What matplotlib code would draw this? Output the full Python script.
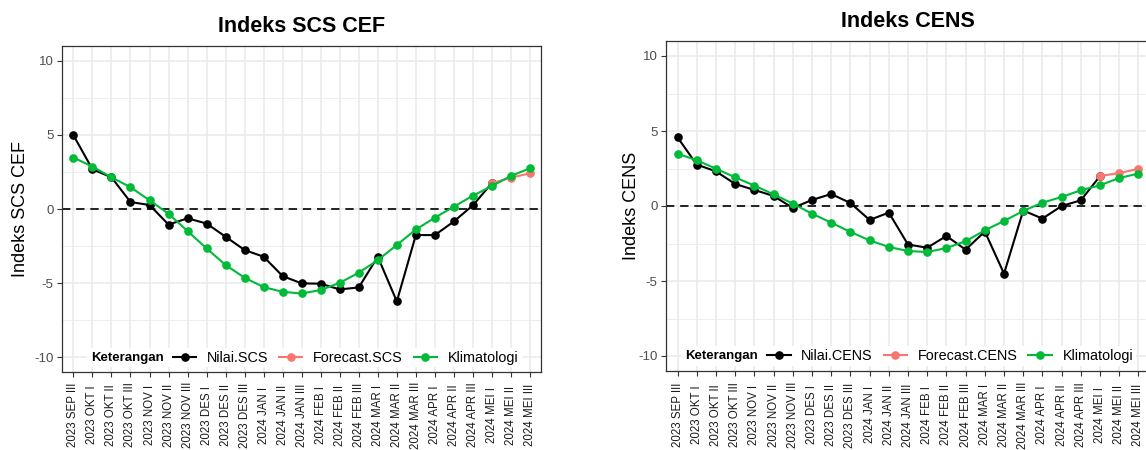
import numpy as np
import matplotlib
matplotlib.use("Agg")
import matplotlib.pyplot as plt
import matplotlib.transforms as mtransforms
from matplotlib.lines import Line2D
from matplotlib.patches import Rectangle

plt.rcParams['font.family'] = ['Liberation Sans', 'DejaVu Sans']
plt.rcParams['axes.unicode_minus'] = False

# dasarian labels (x axis)
labels = ["2023 SEP III", "2023 OKT I", "2023 OKT II", "2023 OKT III",
          "2023 NOV I", "2023 NOV II", "2023 NOV III",
          "2023 DES I", "2023 DES II", "2023 DES III",
          "2024 JAN I", "2024 JAN II", "2024 JAN III",
          "2024 FEB I", "2024 FEB II", "2024 FEB III",
          "2024 MAR I", "2024 MAR II", "2024 MAR III",
          "2024 APR I", "2024 APR II", "2024 APR III",
          "2024 MEI I", "2024 MEI II", "2024 MEI III"]

# SCS CEF
nilai_scs = [4.98, 2.68, 2.14, 0.47, 0.27, -1.05, -0.63, -0.98, -1.87, -2.77,
             -3.22, -4.53, -5.02, -5.04, -5.43, -5.29, -3.22, -6.24, -1.76, -1.76,
             -0.84, 0.25, 1.75]
forecast_scs = [1.75, 2.11, 2.41]
klim_scs = [3.47, 2.86, 2.14, 1.47, 0.59, -0.32, -1.49, -2.66, -3.78, -4.64,
            -5.27, -5.59, -5.70, -5.47, -4.98, -4.30, -3.45, -2.43, -1.38, -0.59,
            0.16, 0.90, 1.55, 2.23, 2.75]

# CENS
nilai_cens = [4.58, 2.76, 2.31, 1.47, 1.07, 0.67, -0.13, 0.40, 0.80, 0.20,
              -0.93, -0.44, -2.57, -2.78, -2.00, -2.91, -1.70, -4.51, -0.30, -0.84,
              0.00, 0.38, 2.00]
forecast_cens = [2.00, 2.20, 2.47]
klim_cens = [3.49, 3.05, 2.49, 1.91, 1.36, 0.78, 0.16, -0.51, -1.11, -1.73,
             -2.29, -2.73, -3.00, -3.07, -2.80, -2.35, -1.62, -1.00, -0.33, 0.22,
             0.60, 1.05, 1.38, 1.87, 2.16]

BLACK = 'black'
RED = '#F8766D'
GREEN = '#00BA38'
MS = 5.2
LW = 1.5

fig = plt.figure(figsize=(11.46, 4.5), dpi=100)


def panel(rect, title, ylabel, nilai, forecast, klim, names, ylab_x, box, leg_x, ket_x, leg_y, xlab_y):
    ax = fig.add_axes(rect)
    x = np.arange(len(labels))
    n = len(nilai)
    ax.plot(x[:n], nilai, color=BLACK, lw=LW, marker='o', ms=MS, zorder=3)
    ax.plot(x[-len(forecast):], forecast, color=RED, lw=LW, marker='o', ms=MS, zorder=4)
    ax.plot(x, klim, color=GREEN, lw=LW, marker='o', ms=MS, zorder=5)
    ax.axhline(0, color='black', lw=1.2, ls=(0, (5, 3.5)), zorder=2)

    ax.set_xlim(-0.6, len(labels) - 0.4)
    ax.set_ylim(-11, 11)
    ax.set_yticks([-10, -5, 0, 5, 10])
    ax.set_yticks([-7.5, -2.5, 2.5, 7.5], minor=True)
    ax.set_xticks(x)
    ax.set_xticklabels([])
    # x labels centred in the label band (ggplot style, angle = 90)
    trans = mtransforms.blended_transform_factory(ax.transData, ax.transAxes)
    for xi, lab in zip(x, labels):
        ax.text(xi, xlab_y, lab, transform=trans, rotation=90, ha='center', va='center',
                fontsize=8.3, color='#1a1a1a', clip_on=False)
    ax.tick_params(axis='x', length=3.5, width=0.8, color='#333333', pad=2)
    ax.tick_params(axis='y', which='major', length=3.5, width=0.8, color='#333333',
                   labelsize=9.5, labelcolor='#4D4D4D', pad=2.5)
    ax.tick_params(axis='y', which='minor', length=0)
    ax.grid(which='major', color='#EBEBEB', lw=1.2, zorder=0)
    ax.grid(which='minor', axis='y', color='#EBEBEB', lw=0.6, zorder=0)
    ax.set_axisbelow(True)
    for s in ax.spines.values():
        s.set_color('#333333')
        s.set_linewidth(0.9)

    ax.set_title(title, fontsize=15.5, fontweight='bold', pad=10)
    ax.set_ylabel(ylabel, fontsize=13)
    ax.yaxis.set_label_coords(ylab_x, 0.5)

    # legend band at the bottom, inside the panel
    ax.add_patch(Rectangle((box[0], box[1]), box[2] - box[0], box[3] - box[1],
                           transform=ax.transAxes, facecolor='white', edgecolor='none', zorder=6))
    ax.text(ket_x, leg_y, 'Keterangan', transform=ax.transAxes, fontsize=9.5,
            fontweight='bold', va='center', ha='left', zorder=7)
    handles = [Line2D([], [], color=c, lw=LW, marker='o', ms=MS) for c in (BLACK, RED, GREEN)]
    leg = ax.legend(handles, names, ncol=3, loc='center left', bbox_to_anchor=(leg_x, leg_y),
                    frameon=False, fontsize=10.4, handlelength=1.6, handletextpad=0.75,
                    columnspacing=0.75, borderpad=0, borderaxespad=0)
    leg.set_zorder(8)
    return ax


panel([62 / 1146, 78 / 450, 479.4 / 1146, 326 / 450], 'Indeks SCS CEF', 'Indeks SCS CEF',
      nilai_scs, forecast_scs, klim_scs, ['Nilai.SCS', 'Forecast.SCS', 'Klimatologi'],
      -0.069, (0.052, 0.015, 0.962, 0.074), 0.2315, 0.0605, 0.044, -0.132)

panel([666 / 1146, 79 / 450, 484 / 1146, 330 / 450], 'Indeks CENS', 'Indeks CENS',
      nilai_cens, forecast_cens, klim_cens, ['Nilai.CENS', 'Forecast.CENS', 'Klimatologi'],
      -0.054, (0.031, 0.015, 0.971, 0.076), 0.2095, 0.039, 0.0455, -0.133)

fig.savefig('out.png', dpi=100)
